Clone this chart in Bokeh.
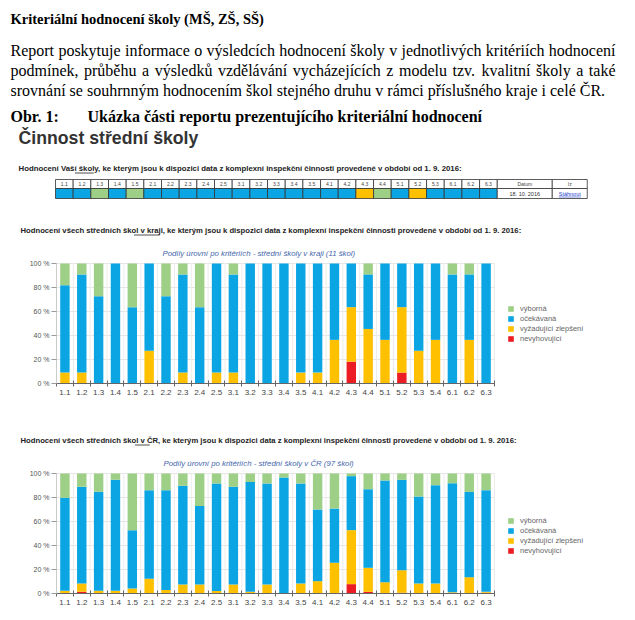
import unicodedata
from bokeh.plotting import figure
from bokeh.models import Range1d, FixedTicker, LinearAxis, Legend, LegendItem, ColumnDataSource
from bokeh.embed import file_html
from bokeh.resources import INLINE
from bokeh.core.properties import value

# ---------------- data ----------------
criteria = ["1.1", "1.2", "1.3", "1.4", "1.5", "2.1", "2.2", "2.3", "2.4", "2.5",
            "3.1", "3.2", "3.3", "3.4", "3.5", "4.1", "4.2", "4.3", "4.4",
            "5.1", "5.2", "5.3", "5.4", "6.1", "6.2", "6.3"]
levels = ["nevyhovující", "vyžadující zlepšení", "očekávaná", "výborná"]
level_colors = ["#ec1c24", "#ffc000", "#0ba5e4", "#9dcf86"]

kraj_schools = 11
kraj_nevyhovujici = [0, 0, 0, 0, 0, 0, 0, 0, 0, 0, 0, 0, 0, 0, 0, 0, 0, 2, 0, 0, 1, 0, 0, 0, 0, 0]
kraj_vyzadujici = [1, 1, 0, 0, 0, 3, 0, 1, 0, 1, 1, 0, 0, 0, 1, 1, 4, 5, 5, 4, 6, 3, 4, 0, 4, 0]
kraj_ocekavana = [8, 9, 8, 11, 7, 8, 8, 9, 7, 10, 9, 11, 11, 11, 10, 10, 7, 4, 5, 7, 4, 8, 7, 10, 6, 11]
kraj_vyborna = [2, 1, 3, 0, 4, 0, 3, 1, 4, 0, 1, 0, 0, 0, 0, 0, 0, 0, 1, 0, 0, 0, 0, 1, 1, 0]

cr_nevyhovujici = [0, 1.4, 0, 0, 0, 0, 0, 0, 0, 0, 0, 0, 0, 0, 0, 0, 0, 7.8, 1.4, 0, 0.6, 0, 0, 0, 0, 0.6]
cr_vyzadujici = [2.2, 6.9, 2.2, 2.2, 4.2, 12.2, 3.0, 7.5, 7.5, 2.0, 7.5, 1.4, 7.5, 0, 8.3, 10.3, 25.6,
                 45.0, 20.0, 9.4, 18.8, 8.3, 8.3, 1.0, 13.6, 0.8]
cr_ocekavana = [77.5, 80.6, 82.5, 92.5, 48.6, 73.9, 83.1, 82.2, 65.5, 89.7, 81.4, 91.6, 84.2, 96.7, 83.4,
                59.7, 45.2, 45.0, 65.5, 84.8, 75.3, 72.5, 82.0, 90.9, 71.1, 84.7]
cr_vyborna = [20.3, 11.1, 15.3, 5.3, 47.2, 13.9, 13.9, 10.3, 27.0, 8.3, 11.1, 7.0, 8.3, 3.3, 8.3,
              30.0, 29.2, 2.2, 13.1, 5.8, 5.3, 19.2, 9.7, 8.1, 15.3, 13.9]

table_criteria = ["1.1", "1.2", "1.3", "1.4", "1.5", "2.1", "2.2", "2.3", "2.4", "2.5",
                  "3.1", "3.2", "3.3", "3.4", "3.5", "4.1", "4.2", "4.3", "4.4",
                  "5.1", "5.2", "5.3", "6.1", "6.2", "6.3"]
table_level = [2, 2, 3, 2, 3, 2, 2, 2, 2, 2, 2, 2, 2, 2, 2, 2, 2, 1, 3, 2, 1, 2, 2, 2, 2]
table_date = "18. 10. 2016"
table_link = "Stáhnout"

y_ticks = [0, 20, 40, 60, 80, 100]
y_tick_labels = ["0 %", "20 %", "40 %", "60 %", "80 %", "100 %"]

doc_title = "Kriteriální hodnocení školy (MŠ, ZŠ, SŠ)"
paragraph_lines = [
    "Report poskytuje informace o výsledcích hodnocení školy v jednotlivých kritériích hodnocení",
    "podmínek, průběhu a výsledků vzdělávání vycházejících z modelu tzv. kvalitní školy a také",
    "srovnání se souhrnným hodnocením škol stejného druhu v rámci příslušného kraje i celé ČR.",
]
fig_label = "Obr. 1:"
fig_caption = "Ukázka části reportu prezentujícího kriteriální hodnocení"
section_title = "Činnost střední školy"
school_heading = ("Hodnocení Vaší ", "školy", ", ke kterým jsou k dispozici data z komplexní inspekční "
                  "činnosti provedené v období od 1. 9. 2016:")
kraj_heading = ("Hodnocení všech středních škol ", "v kraji", ", ke kterým jsou k dispozici data z komplexní "
                "inspekční činnosti provedené v období od 1. 9. 2016:")
cr_heading = ("Hodnocení všech středních škol ", "v ČR", ", ke kterým jsou k dispozici data z komplexní "
              "inspekční činnosti provedené v období od 1. 9. 2016:")
kraj_title = "Podíly úrovní po kritériích - střední školy v kraji (11 škol)"
cr_title = "Podíly úrovní po kritériích - střední školy v ČR (97 škol)"

# ---------------- page figure (page pixel coordinates) ----------------
W, H = 627, 612
X0, Y0 = 0, 0
SANS = "Liberation Sans"
SERIF = "Liberation Serif"

p = figure(width=W, height=H, x_range=Range1d(X0, X0 + W), y_range=Range1d(Y0 + H, Y0),
           output_backend="svg", toolbar_location=None,
           x_axis_location=None, y_axis_location=None, min_border=0)
p.outline_line_color = None
p.grid.visible = False

TIMES_W = {" ": 250, ".": 250, ",": 250, ":": 278, "-": 333, "(": 333, ")": 333,
           "a": 444, "b": 500, "c": 444, "d": 500, "e": 444, "f": 333, "g": 500, "h": 500, "i": 278,
           "j": 278, "k": 500, "l": 278, "m": 778, "n": 500, "o": 500, "p": 500, "q": 500, "r": 333,
           "s": 389, "t": 278, "u": 500, "v": 500, "w": 722, "x": 500, "y": 500, "z": 444,
           "C": 667, "R": 667}


def times_width(s, px):
    tot = 0
    for ch in s:
        b = unicodedata.normalize("NFD", ch)[0]
        tot += TIMES_W.get(b, 500)
    return tot * px / 1000.0


def put(x, y, txt, size, font=SANS, style="normal", color="#000000", align="left"):
    p.text(x=x if isinstance(x, list) else [x], y=y if isinstance(y, list) else [y],
           text=txt if isinstance(txt, list) else [txt],
           text_font=value(font), text_font_size=size, text_font_style=style,
           text_color=color, text_align=align, text_baseline="middle")


def heading(x, y, parts, total_w, size="7.7px"):
    full = "".join(parts)
    put(x, y, full, size, style="bold", color="#222222")
    x0 = x + total_w * len(parts[0]) / len(full)
    x1 = x0 + total_w * len(parts[1]) / len(full)
    p.segment(x0=[x0], y0=[y + 4.5], x1=[x1], y1=[y + 4.5], line_color="#222222", line_width=0.8)


# ---- document text ----
put(10, 18, doc_title, "14.5px", font=SERIF, style="bold")
line_y = [50, 70, 90]
PX = 16
for li, line in enumerate(paragraph_lines):
    words = line.split(" ")
    widths = [times_width(w_, PX) for w_ in words]
    gap = (615 - 10 - sum(widths)) / (len(words) - 1) if li < 2 else times_width(" ", PX)
    xs = []
    cx = 10
    for wd in widths:
        xs.append(cx)
        cx += wd + gap
    put(xs, [line_y[li]] * len(words), words, "16px", font=SERIF)

put(10, 116, fig_label, "16px", font=SERIF, style="bold")
put(87, 116, fig_caption, "16px", font=SERIF, style="bold")
put(18, 137, section_title, "17.7px", style="bold", color="#333333")

heading(18, 168, school_heading, 444, size="7.8px")

# ---- table of the school's results ----
cell_w = 17.67
tx0 = 55
n_t = len(table_criteria)
lefts = [tx0 + i * cell_w for i in range(n_t)]
rights = [l + cell_w for l in lefts]
p.quad(left=lefts, right=rights, top=[179] * n_t, bottom=[188] * n_t,
       fill_color="white", line_color="#333333", line_width=0.8)
p.quad(left=lefts, right=rights, top=[188] * n_t, bottom=[198] * n_t,
       fill_color=[level_colors[k] for k in table_level], line_color="#333333", line_width=0.8)
d0 = tx0 + n_t * cell_w
d1 = d0 + 55
d2 = d1 + 35
p.quad(left=[d0, d1, d0, d1], right=[d1, d2, d1, d2], top=[179, 179, 188, 188], bottom=[188, 188, 198, 198],
       fill_color="white", line_color="#333333", line_width=0.8)
put([l + cell_w / 2 for l in lefts], [183.5] * n_t, table_criteria, "5px", color="#444444", align="center")
put([(d0 + d1) / 2, (d1 + d2) / 2], [183.5, 183.5], ["Datum", "Iz"], "5px", color="#444444", align="center")
put((d0 + d1) / 2, 193, table_date, "5.5px", color="#333333", align="center")
put((d1 + d2) / 2, 193, table_link, "5.5px", color="#2244cc", align="center")
p.segment(x0=[(d1 + d2) / 2 - 11], y0=[196.5], x1=[(d1 + d2) / 2 + 11], y1=[196.5],
          line_color="#2244cc", line_width=0.6)

heading(20, 230, kraj_heading, 498)
put(162, 253, kraj_title, "7.8px", style="italic", color="#4466aa")
heading(20, 440, cr_heading, 491)
put(163, 463, cr_title, "7.8px", style="italic", color="#4466aa")

# ---- chart scales: plot areas in page pixels ----
n = len(criteria)
PLOT_L, PLOT_R = 56, 494
unit = (PLOT_R - PLOT_L) / n
p.extra_x_ranges = {"cx": Range1d(-0.5 - (PLOT_L - X0) / unit, n - 0.5 + (X0 + W - PLOT_R) / unit)}


def y_range_for(top_px, bot_px):
    ppp = (bot_px - top_px) / 100.0
    return Range1d(-(Y0 + H - bot_px) / ppp, 100 + (top_px - Y0) / ppp)


p.extra_y_ranges = {"ky": y_range_for(263, 383), "cy": y_range_for(473, 593)}


def chart(yname, nev, vyz, oce, vyb, legend_x, legend_y):
    rn = dict(x_range_name="cx", y_range_name=yname)
    bounds_ticks = [i - 0.5 for i in range(n + 1)]
    # light grid
    p.segment(x0=[-0.5] * len(y_ticks), x1=[n - 0.5] * len(y_ticks), y0=y_ticks, y1=y_ticks,
              line_color="#e6e6e6", line_width=1, level="underlay", **rn)
    p.segment(x0=bounds_ticks, x1=bounds_ticks, y0=[0] * len(bounds_ticks), y1=[100] * len(bounds_ticks),
              line_color="#ececec", line_width=1, level="underlay", **rn)

    src = ColumnDataSource(dict(x=list(range(n)), nev=nev, vyz=vyz, oce=oce, vyb=vyb))
    rs = p.vbar_stack(["nev", "vyz", "oce", "vyb"], x="x", width=0.56, color=level_colors,
                      line_color=None, source=src, **rn)

    ax = LinearAxis(fixed_location=0, bounds=(-0.5, n - 0.5), ticker=FixedTicker(ticks=bounds_ticks),
                    major_tick_in=3, major_tick_out=3, major_label_text_alpha=0,
                    major_label_text_font_size="1px", major_label_standoff=0,
                    axis_line_color="#666666", major_tick_line_color="#666666",
                    minor_tick_line_color=None, **rn)
    p.add_layout(ax, "below")
    axb = LinearAxis(fixed_location=0, ticker=FixedTicker(ticks=list(range(n))),
                     major_label_overrides={i: c for i, c in enumerate(criteria)},
                     axis_line_color=None, major_tick_line_color=None, minor_tick_line_color=None,
                     major_tick_in=0, major_tick_out=0, major_label_standoff=6,
                     major_label_text_font=SANS, major_label_text_font_size="8px",
                     major_label_text_color="#444444", **rn)
    p.add_layout(axb, "below")
    ay = LinearAxis(fixed_location=-0.5, bounds=(0, 100), ticker=FixedTicker(ticks=y_ticks),
                    major_label_overrides={t: l for t, l in zip(y_ticks, y_tick_labels)},
                    major_label_text_font=SANS, major_label_text_font_size="7px",
                    major_label_text_color="#555555", major_tick_in=0, major_tick_out=5,
                    major_label_standoff=2, major_tick_line_color="#999999",
                    axis_line_color="#cccccc", minor_tick_line_color=None, **rn)
    p.add_layout(ay, "left")

    items = [LegendItem(label=levels[k], renderers=[rs[k]]) for k in (3, 2, 1, 0)]
    leg = Legend(items=items, location=(legend_x, legend_y), orientation="vertical",
                 glyph_width=7, glyph_height=7, label_height=10, label_standoff=6, spacing=0,
                 padding=0, margin=0, border_line_color=None, background_fill_alpha=0,
                 label_text_font=SANS, label_text_font_size="7.5px", label_text_color="#666666")
    p.add_layout(leg)


kraj_pct = [[v * 100.0 / kraj_schools for v in arr]
            for arr in (kraj_nevyhovujici, kraj_vyzadujici, kraj_ocekavana, kraj_vyborna)]
chart("ky", *kraj_pct, legend_x=507 - X0, legend_y=Y0 + H - 343)
chart("cy", cr_nevyhovujici, cr_vyzadujici, cr_ocekavana, cr_vyborna,
      legend_x=507 - X0, legend_y=Y0 + H - 555)

open("out.html", "w").write(file_html(p, INLINE))
